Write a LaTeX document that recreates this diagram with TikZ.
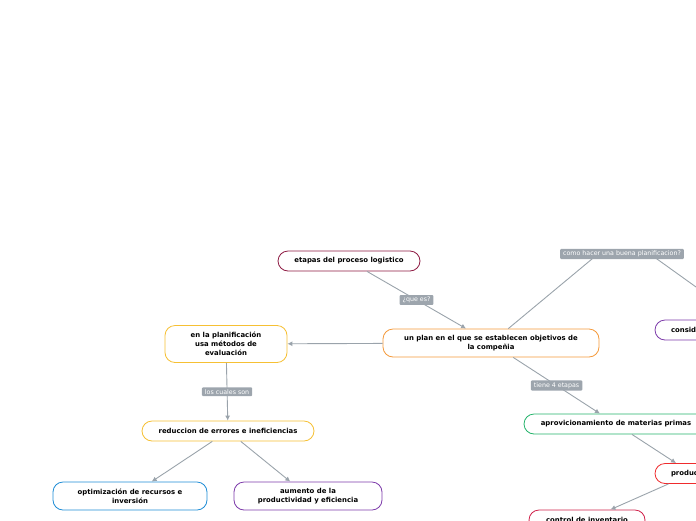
\documentclass[tikz,border=0pt]{standalone}
\usepackage{fontspec}
\setmainfont{DejaVu Sans}
\usepackage{tikz}
\usetikzlibrary{arrows.meta}
\definecolor{linegray}{RGB}{154,163,171}
\definecolor{labelgray}{RGB}{157,165,173}
\definecolor{mapmaroon}{RGB}{142,27,67}
\definecolor{maporange}{RGB}{245,154,59}
\definecolor{mapgold}{RGB}{246,192,52}
\definecolor{mapblue}{RGB}{31,141,214}
\definecolor{mappurple}{RGB}{125,59,170}
\definecolor{mapgreen}{RGB}{36,179,107}
\definecolor{mapred}{RGB}{239,43,45}
\definecolor{mapcrimson}{RGB}{208,33,74}

\begin{document}
\begin{tikzpicture}[x=1pt, y=-1pt,
    topic/.style={draw, line width=0.8pt, rounded corners=10pt, fill=white, align=center, inner xsep=0pt, inner ysep=0pt, font=\fontsize{6.9}{9.2}\selectfont\bfseries},
    cuttopic/.style={topic, inner xsep=16pt, align=left},
    tag/.style={fill=labelgray, text=white, rounded corners=1pt, inner xsep=3pt, inner ysep=2pt, font=\fontsize{6.3}{6.5}\selectfont},
    link/.style={draw=linegray, line width=0.9pt, -{Latex[length=5pt,width=5pt]}}]
    \useasboundingbox (0,0) rectangle (696,520);
    \clip (0,0) rectangle (696,520);

    \node[topic, draw=mapmaroon, minimum width=142pt, minimum height=20pt] (etapas) at (349,261) {etapas del proceso logistico};
    \node[topic, draw=maporange, minimum width=216pt, minimum height=28pt] (plan) at (491,343) {un plan en el que se establecen objetivos de\\la compeñia};
    \node[topic, draw=mapgold, minimum width=122pt, minimum height=37pt] (metodos) at (226,344) {en la planificación\\usa métodos de\\evaluación};
    \node[topic, draw=mapgold, minimum width=172pt, minimum height=20pt] (errores) at (228,431) {reduccion de errores e ineficiencias};
    \node[topic, draw=mapblue, minimum width=154pt, minimum height=28pt] (recursos) at (130,496) {optimización de recursos e\\inversión};
    \node[topic, draw=mappurple, minimum width=148pt, minimum height=28pt] (productividad) at (308,496) {aumento de la\\productividad y eficiencia};
    \node[topic, draw=mapgreen, minimum width=184pt, minimum height=20pt] (materias) at (616,424) {aprovicionamiento de materias primas};
    \node[cuttopic, draw=mappurple, text width=170pt, minimum height=20pt] (consid) at (756,330) {consid};
    \node[cuttopic, draw=mapred, text width=42pt, minimum height=20pt] (produc) at (692,473.5) {produc};
    \node[topic, draw=mapcrimson, minimum width=116pt, minimum height=20pt] (inventario) at (587,520) {control de inventario};

    \draw[link] (etapas) -- node[tag] {¿que es?} (plan);
    \draw[link] (plan) -- (metodos);
    \draw[link] (metodos) -- node[tag] {los cuales son} (errores);
    \draw[link] (errores) -- (recursos);
    \draw[link] (errores) -- (productividad);
    \draw[link] (plan) -- node[tag] {tiene 4 etapas} (materias);
    \draw[link] (materias) -- (produc);
    \draw[link] (produc) -- (inventario);

    % question on the way to the right branch
    \coordinate (howto) at (622,254);
    \draw[link, -] (plan) -- ([xshift=-24pt]howto);
    \draw[link] ([xshift=28pt]howto) -- (consid);
    \node[tag] (howtotag) at (howto) {como hacer una buena planificacion?};
\end{tikzpicture}
\end{document}
